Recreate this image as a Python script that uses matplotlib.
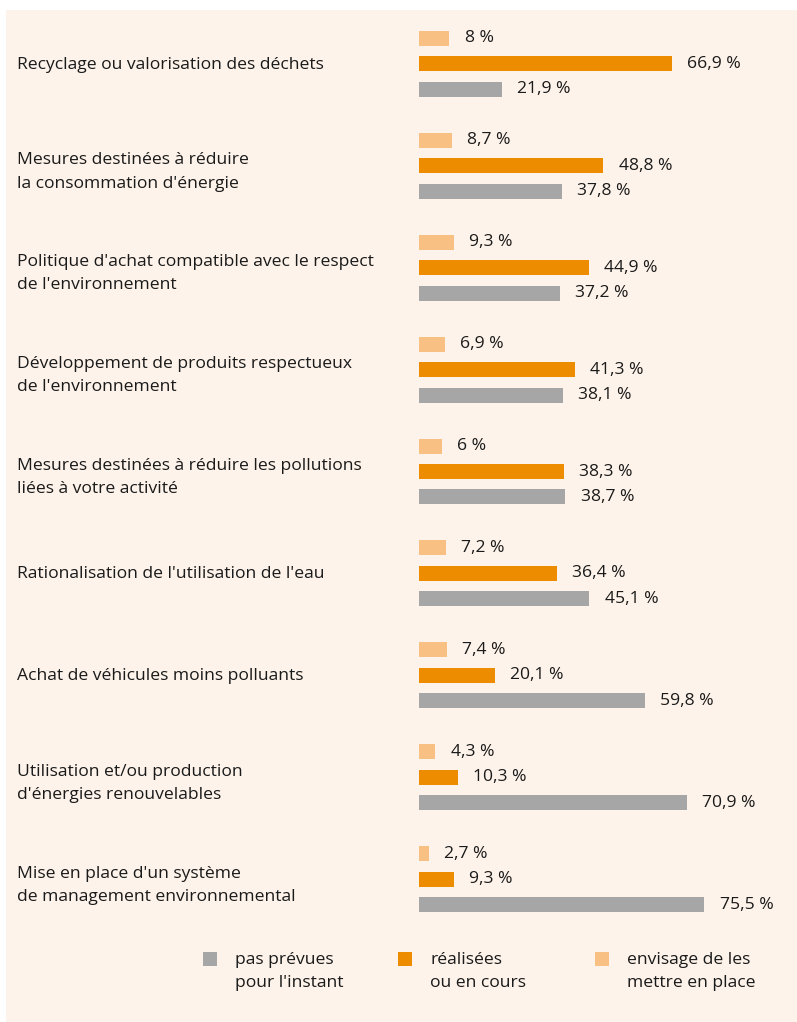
import numpy as np
import matplotlib
matplotlib.use("Agg")
import matplotlib.pyplot as plt
from matplotlib.patches import Rectangle

categories = [
    "Recyclage ou valorisation des déchets",
    "Mesures destinées à réduire\nla consommation d'énergie",
    "Politique d'achat compatible avec le respect\nde l'environnement",
    "Développement de produits respectueux\nde l'environnement",
    "Mesures destinées à réduire les pollutions\nliées à votre activité",
    "Rationalisation de l'utilisation de l'eau",
    "Achat de véhicules moins polluants",
    "Utilisation et/ou production\nd'énergies renouvelables",
    "Mise en place d'un système\nde management environnemental",
]
envisage = [8, 8.7, 9.3, 6.9, 6, 7.2, 7.4, 4.3, 2.7]
realisees = [66.9, 48.8, 44.9, 41.3, 38.3, 36.4, 20.1, 10.3, 9.3]
pas_prevues = [21.9, 37.8, 37.2, 38.1, 38.7, 45.1, 59.8, 70.9, 75.5]

legend_labels = ["pas prévues\npour l'instant", "réalisées\nou en cours",
                 "envisage de les\nmettre en place"]

c_light = "#f8c083"
c_orange = "#ee8c00"
c_gray = "#a6a6a6"
bg = "#fdf3ea"

plt.rcParams['font.family'] = ['Open Sans', 'DejaVu Sans']
W, H = 797, 1022
fig = plt.figure(figsize=(W / 100, H / 100), dpi=100)
fig.patch.set_facecolor("white")
fig.add_artist(Rectangle((6 / W, -0.05), 1.1, 1.05 - 10 / H, transform=fig.transFigure,
                         facecolor=bg, edgecolor="none", zorder=-10))

# axes: x=0 at pixel 419, 3.78 px per %
px_per = 3.78
left = 419 / W
width = (W - 419) / W
top_px, bot_px = 13, 930
ax = fig.add_axes([left, 1 - bot_px / H, width, (bot_px - top_px) / H])
ax.set_xlim(0, (W - 419) / px_per)
ax.set_ylim(8.5, -0.5)
ax.axis("off")

y = np.arange(len(categories))
off = 0.25
h = 0.147
fs = 12.6
ax.barh(y - off, envisage, height=h, color=c_light)
ax.barh(y, realisees, height=h, color=c_orange)
ax.barh(y + off, pas_prevues, height=h, color=c_gray)

def fmt(v):
    s = ("%g" % v).replace(".", ",")
    return s + " %"

for vals, dy in [(envisage, -off), (realisees, 0), (pas_prevues, off)]:
    for i, v in enumerate(vals):
        ax.annotate(fmt(v), (v, i + dy), xytext=(11, 0), textcoords="offset points",
                    va="center", ha="left", fontsize=fs, color="#1a1a1a")

for i, cat in enumerate(categories):
    shift = 0.06 if "\n" in cat else 0.01
    ax.text(-402 / px_per, i + shift, cat, va="center", ha="left", fontsize=fs,
            color="#1a1a1a", linespacing=1.6, clip_on=False)

# legend
leg_sq = [(203, c_gray), (398, c_orange), (595, c_light)]
for (sx, col), lab in zip(leg_sq, legend_labels):
    fig.add_artist(Rectangle((sx / W, 1 - 966 / H), 14 / W, 14 / H,
                             transform=fig.transFigure, facecolor=col,
                             edgecolor="none"))
    fig.text((sx + 32) / W, 1 - 952 / H, lab, va="top", ha="left",
             fontsize=fs, color="#1a1a1a", linespacing=1.6)

fig.savefig("out.png", dpi=100, facecolor=fig.get_facecolor())
